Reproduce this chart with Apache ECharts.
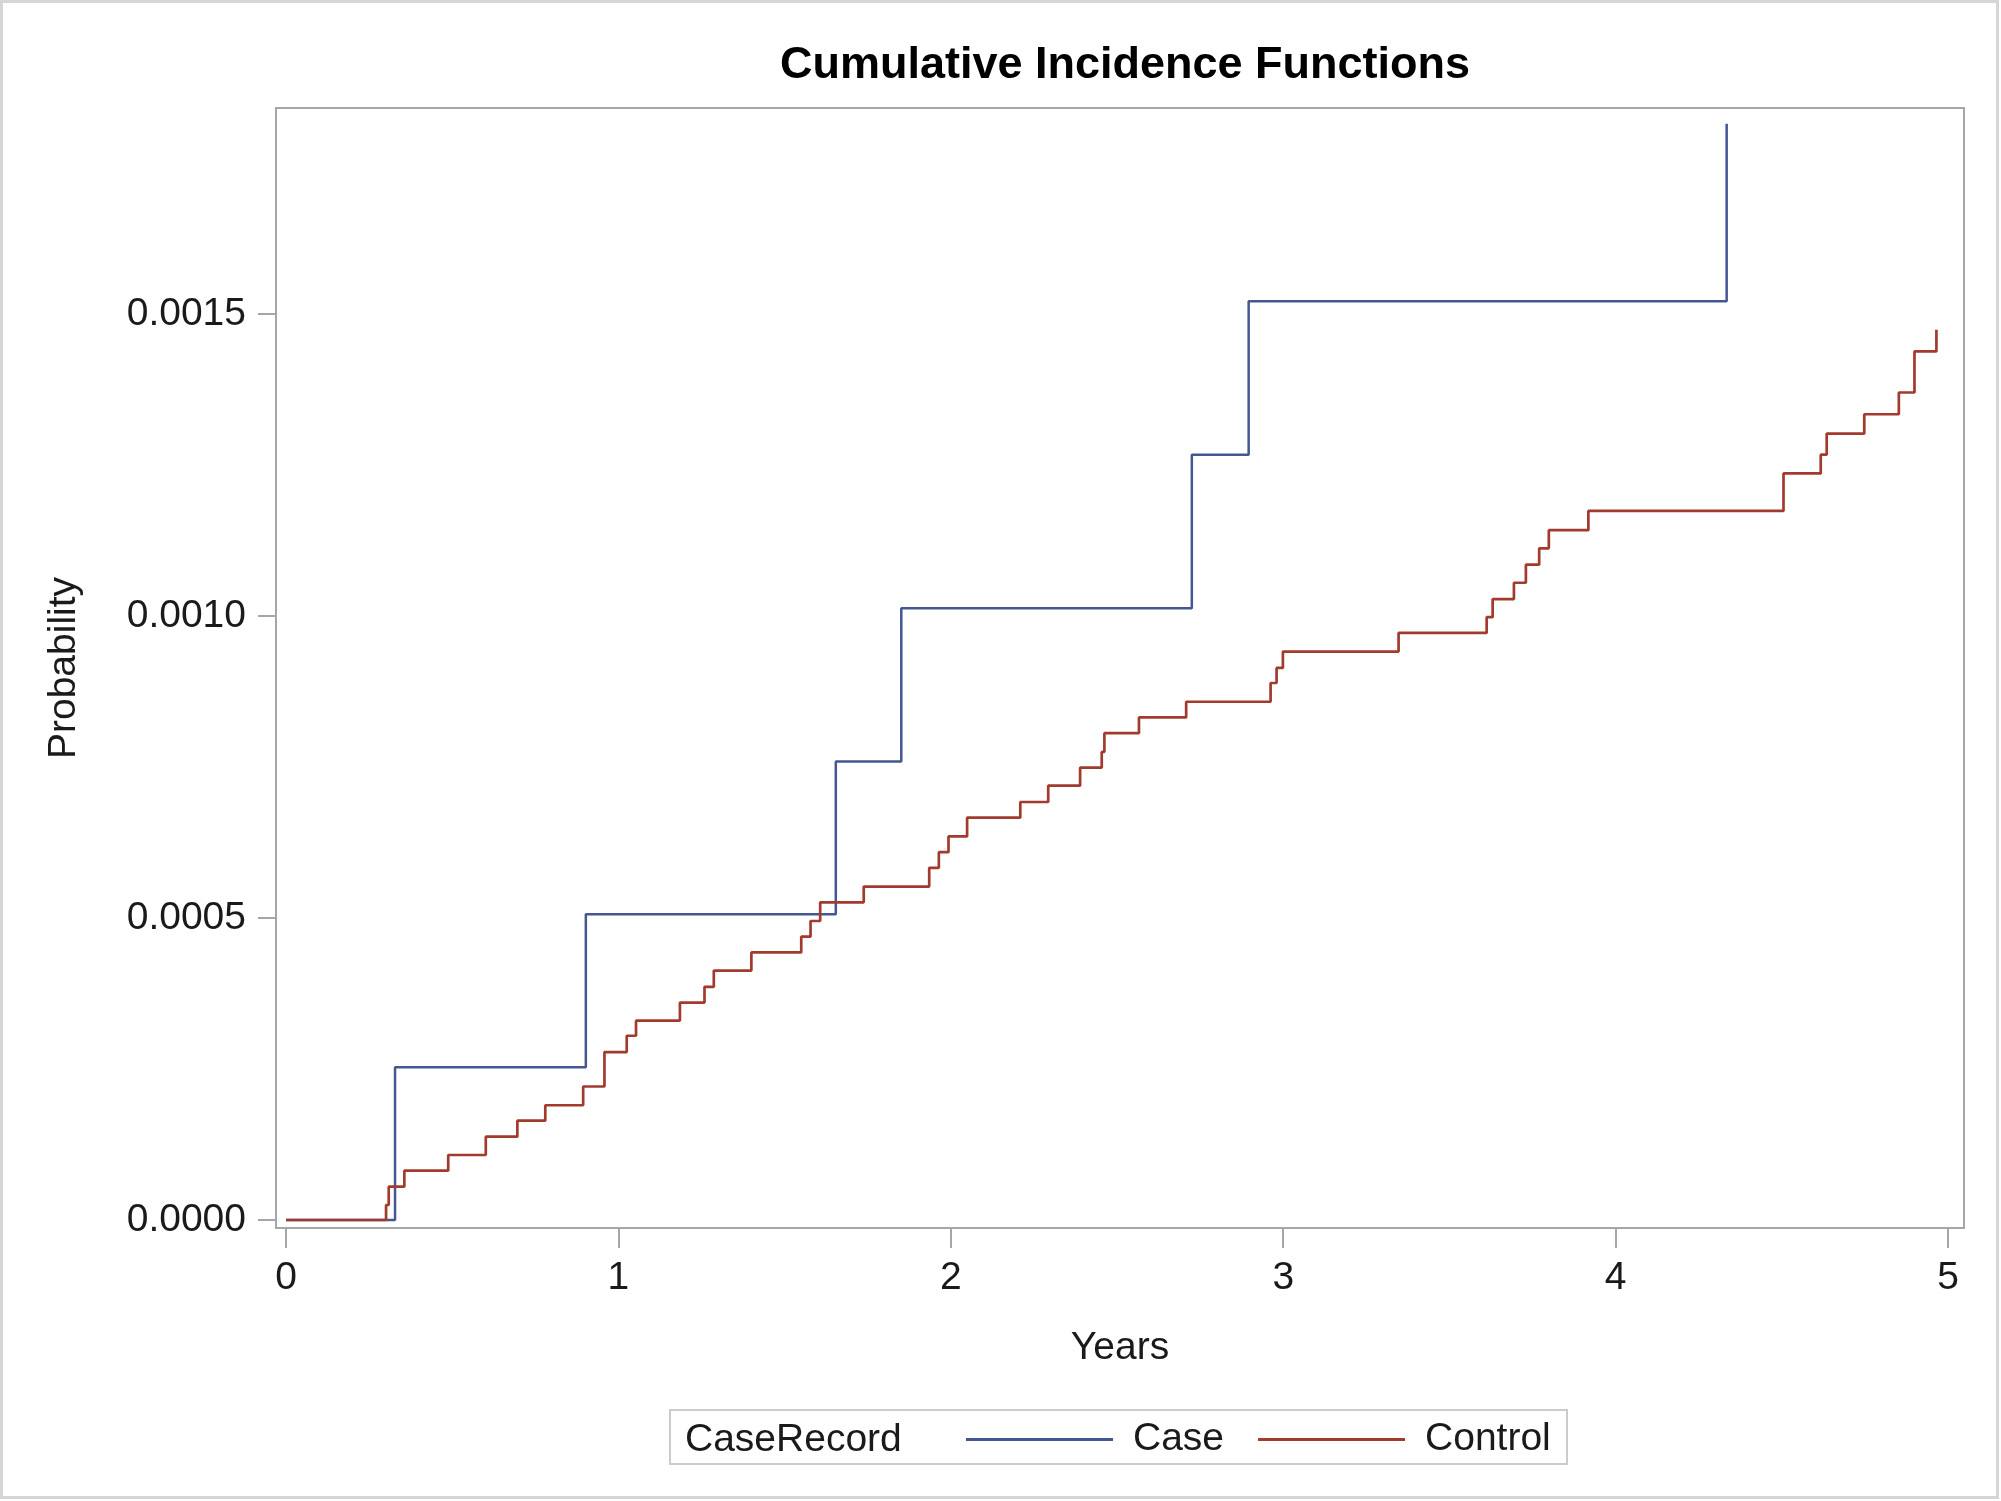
<!DOCTYPE html>
<html>
<head>
<meta charset="utf-8">
<script src="https://cdn.jsdelivr.net/npm/echarts@6/dist/echarts.min.js"></script>
<style>
html,body{margin:0;padding:0;background:#fff;}
#chart{width:2001px;height:1501px;}
</style>
</head>
<body>
<div id="chart"></div>
<script>
// ---- data ----
const chartTitle = 'Cumulative Incidence Functions';
const xAxisName = 'Years';
const yAxisName = 'Probability';
const legendTitle = 'CaseRecord';
const seriesNames = ['Case', 'Control'];
const xTicks = [0, 1, 2, 3, 4, 5];
const yTicks = [0, 0.0005, 0.0010, 0.0015];

const caseYears = [0, 0.328, 0.902, 1.654, 1.851, 2.725, 2.896, 4.334];
const caseProb  = [0, 0.000253, 0.000506, 0.000759, 0.001013, 0.001267, 0.001521, 0.001815];

const controlYears = [0, 0.301, 0.309, 0.356, 0.488, 0.601, 0.696, 0.780, 0.894, 0.958,
  1.025, 1.053, 1.185, 1.259, 1.287, 1.400, 1.550, 1.578, 1.607, 1.738,
  1.935, 1.964, 1.993, 2.049, 2.209, 2.293, 2.389, 2.454, 2.462, 2.566,
  2.708, 2.962, 2.980, 2.999, 3.347, 3.612, 3.630, 3.694, 3.730, 3.770,
  3.799, 3.918, 4.505, 4.617, 4.635, 4.748, 4.852, 4.899, 4.965];
const controlProb = [0, 0.0000248, 0.0000552, 0.0000817, 0.0001076, 0.000138, 0.0001644, 0.000190, 0.000221, 0.000278,
  0.000305, 0.000330, 0.000360, 0.000386, 0.000413, 0.000443, 0.000469, 0.000495, 0.000526, 0.000552,
  0.000583, 0.000609, 0.000635, 0.000666, 0.000692, 0.000719, 0.000749, 0.000775, 0.000806, 0.000832,
  0.000858, 0.000889, 0.000914, 0.000941, 0.000972, 0.000998, 0.001028, 0.001055, 0.001085, 0.001112,
  0.001142, 0.001174, 0.001236, 0.001267, 0.001302, 0.001334, 0.001370, 0.001438, 0.001474];

const colors = ['#445694', '#A23A2E'];
// --------------------------------------

const FONT = 'Liberation Sans, Arial, sans-serif';
const frameColor = '#a3a6ab';

function pairs(xs, ys) { return xs.map((x, i) => [x, ys[i]]); }

const chart = echarts.init(document.getElementById('chart'), null, {renderer: 'canvas'});
chart.setOption({
  animation: false,
  backgroundColor: '#ffffff',
  color: colors,
  title: {
    text: chartTitle,
    left: 1120,
    top: 38,
    textAlign: 'center',
    textStyle: {fontFamily: FONT, fontSize: 45, fontWeight: 'bold', color: '#000'}
  },
  grid: {
    left: 276, top: 108, right: 37, bottom: 273,
    show: true, borderColor: frameColor, borderWidth: 2, backgroundColor: 'transparent'
  },
  xAxis: {
    type: 'value',
    min: -0.0301, max: 5.048,
    name: xAxisName,
    nameLocation: 'middle',
    nameGap: 101,
    nameTextStyle: {fontFamily: FONT, fontSize: 39, color: '#1a1a1a'},
    axisLine: {show: true, onZero: false, lineStyle: {color: frameColor, width: 2}},
    axisTick: {show: true, length: 20, customValues: xTicks, lineStyle: {color: frameColor, width: 2}},
    axisLabel: {customValues: xTicks, margin: 31, fontFamily: FONT, fontSize: 39, color: '#1a1a1a',
      formatter: v => String(Math.round(v))},
    splitLine: {show: false}
  },
  yAxis: {
    type: 'value',
    min: -0.00001325, max: 0.001841,
    name: yAxisName,
    nameLocation: 'middle',
    nameGap: 192,
    nameTextStyle: {fontFamily: FONT, fontSize: 39, color: '#1a1a1a'},
    axisLine: {show: true, onZero: false, lineStyle: {color: frameColor, width: 2}},
    axisTick: {show: true, length: 18, customValues: yTicks, lineStyle: {color: frameColor, width: 2}},
    axisLabel: {customValues: yTicks, margin: 30, fontFamily: FONT, fontSize: 39, color: '#1a1a1a',
      formatter: v => v.toFixed(4)},
    splitLine: {show: false}
  },
  legend: {
    left: 966, top: 1420,
    padding: 0,
    icon: 'rect',
    itemWidth: 147, itemHeight: 3,
    itemGap: 34,
    data: seriesNames,
    textStyle: {fontFamily: FONT, fontSize: 39, color: '#1a1a1a', padding: [0, 0, 0, 15]}
  },
  graphic: [
    {type: 'rect', shape: {x: 1.5, y: 1.5, width: 1996, height: 1496}, silent: true,
      style: {fill: 'none', stroke: '#d6d6d6', lineWidth: 3}},
    {type: 'rect', shape: {x: 670, y: 1410, width: 897, height: 54}, silent: true,
      style: {fill: 'none', stroke: '#cccccc', lineWidth: 2}},
    {type: 'text', x: 685, y: 1440, silent: true,
      style: {text: legendTitle, font: '39px ' + FONT, fill: '#1a1a1a', textVerticalAlign: 'middle'}}
  ],
  series: [
    {name: seriesNames[0], type: 'line', step: 'end', symbol: 'none', showSymbol: false,
      data: pairs(caseYears, caseProb), lineStyle: {width: 2.5, color: colors[0]}, itemStyle: {color: colors[0]}},
    {name: seriesNames[1], type: 'line', step: 'end', symbol: 'none', showSymbol: false,
      data: pairs(controlYears, controlProb), lineStyle: {width: 2.7, color: colors[1]}, itemStyle: {color: colors[1]}}
  ]
});
</script>
</body>
</html>
